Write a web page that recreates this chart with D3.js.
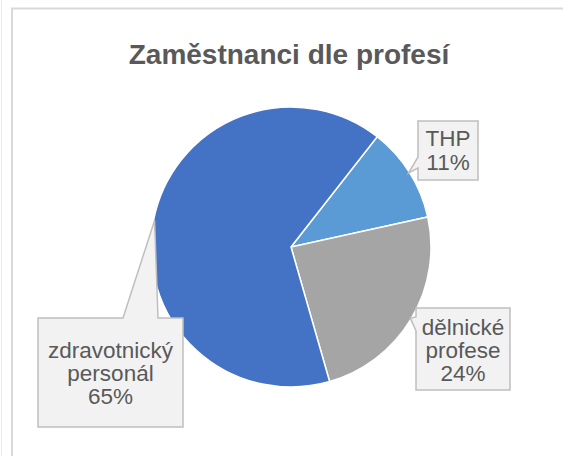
<!DOCTYPE html>
<html>
<head>
<meta charset="utf-8">
<script src="https://cdn.jsdelivr.net/npm/d3@7"></script>
<style>
  body { margin: 0; background: #fff; }
  svg { display: block; font-family: "Liberation Sans", Arial, sans-serif; }
</style>
</head>
<body>
<div id="chart"></div>
<script>
// data
var categories = ["THP", "dělnické profese", "zdravotnický personál"];
var shares = [11, 24, 65];
var colors = ["#5B9BD5", "#A5A5A5", "#4472C4"];
// label text split in lines
var labelLines = [["THP", "11%"], ["dělnické", "profese", "24%"], ["zdravotnický", "personál", "65%"]];

var width = 563, height = 456;
var cx = 291, cy = 247, radius = 140;
var startDeg = 38;

var svg = d3.select("#chart").append("svg")
    .attr("width", width)
    .attr("height", height);

// outer frames
svg.append("line")
    .attr("x1", 1.5).attr("y1", 0).attr("x2", 1.5).attr("y2", height)
    .attr("stroke", "#e6eaee").attr("stroke-width", 1);
svg.append("rect")
    .attr("x", 12).attr("y", 8.5)
    .attr("width", width).attr("height", height)
    .attr("fill", "#fff")
    .attr("stroke", "#d9d9d9").attr("stroke-width", 2);

// title
svg.append("text")
    .attr("x", 289)
    .attr("y", 64)
    .attr("text-anchor", "middle")
    .style("font-size", "28px")
    .style("font-weight", "bold")
    .attr("fill", "#595959")
    .text("Zaměstnanci dle profesí");

var data = categories.map(function(c, i) { return {name: c, value: shares[i], color: colors[i], lines: labelLines[i]}; });

var pie = d3.pie()
    .sort(null)
    .value(function(d) { return d.value; })
    .startAngle(startDeg * Math.PI / 180)
    .endAngle(startDeg * Math.PI / 180 + 2 * Math.PI);

var arc = d3.arc().innerRadius(0).outerRadius(radius);

var g = svg.append("g").attr("transform", "translate(" + cx + "," + cy + ")");

var arcs = pie(data);

g.selectAll("path.slice")
    .data(arcs)
    .enter()
    .append("path")
    .attr("class", "slice")
    .attr("d", arc)
    .attr("fill", function(d) { return d.data.color; })
    .attr("stroke", "#fff")
    .attr("stroke-width", 1.5);

// callout boxes (layout: box rect, side of pointer, pointer base)
var callouts = [
  {box: [418, 121, 60, 59], side: "left", base: [157, 168], lineY: 146, lh: 24},
  {box: [416, 308, 94, 82], side: "left", base: [317, 331], lineY: 335, lh: 23},
  {box: [38, 318, 145, 109], side: "top", base: [123, 158], lineY: 358, lh: 23}
];

// pointer ends on the pie edge at the middle of the slice
function tipPoint(d) {
  var a = (d.startAngle + d.endAngle) / 2;
  return [cx + (radius - 1) * Math.sin(a), cy - (radius - 1) * Math.cos(a)];
}

callouts.forEach(function(c, i) {
  var d = arcs[i];
  var tip = tipPoint(d);
  var x = c.box[0], y = c.box[1], w = c.box[2], h = c.box[3];
  var p;
  if (c.side === "left") {
    p = "M" + x + "," + y + "H" + (x + w) + "V" + (y + h) + "H" + x +
        "V" + c.base[1] + "L" + tip[0] + "," + tip[1] + "L" + x + "," + c.base[0] + "Z";
  } else {
    p = "M" + x + "," + y + "H" + c.base[0] + "L" + tip[0] + "," + tip[1] + "L" + c.base[1] + "," + y +
        "H" + (x + w) + "V" + (y + h) + "H" + x + "Z";
  }
  svg.append("path")
      .attr("d", p)
      .attr("fill", "#f2f2f2")
      .attr("stroke", "#bfbfbf")
      .attr("stroke-width", 1.5);

  var t = svg.append("text")
      .attr("text-anchor", "middle")
      .attr("fill", "#595959")
      .style("font-size", "22.5px");
  d.data.lines.forEach(function(line, k) {
    t.append("tspan")
        .attr("x", x + w / 2)
        .attr("y", c.lineY + k * c.lh)
        .text(line);
  });
});
</script>
</body>
</html>
